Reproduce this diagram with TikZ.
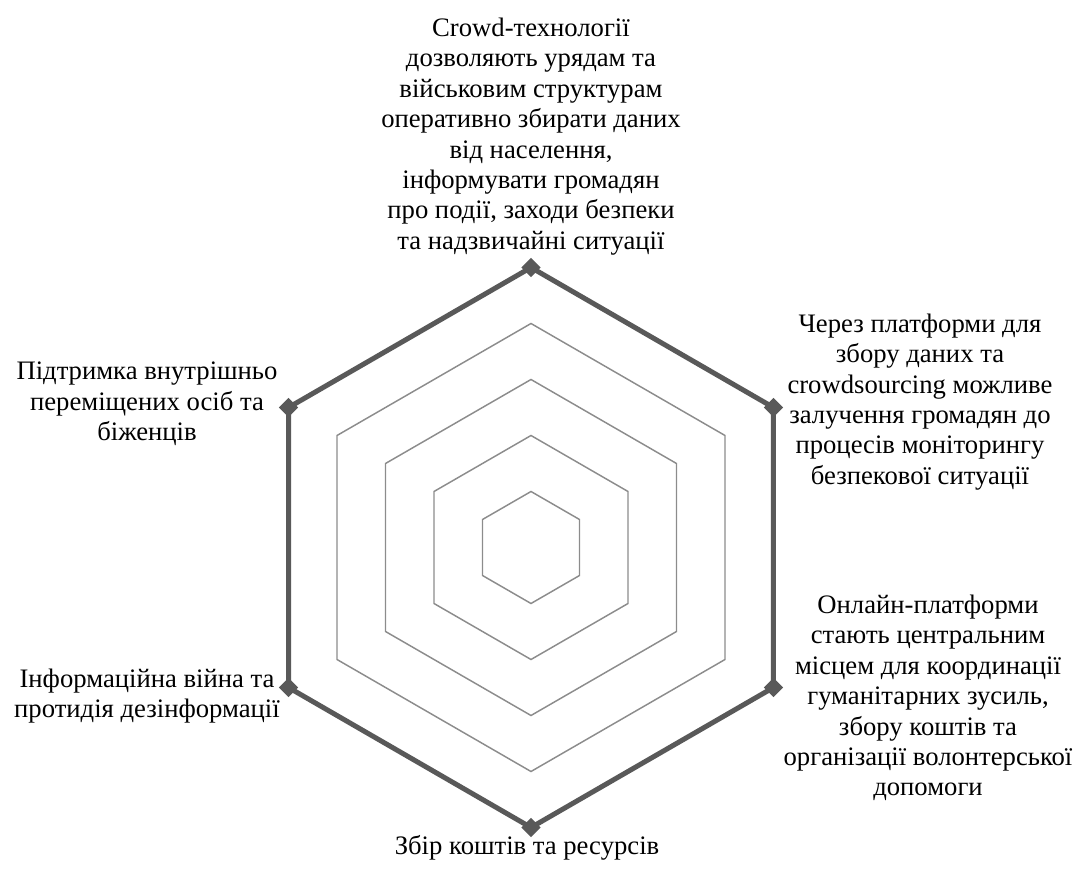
\documentclass[tikz,border=0pt]{standalone}
\usepackage{fontspec}
\setmainfont{Liberation Serif}
\usetikzlibrary{shapes.geometric}
\definecolor{gridgray}{RGB}{140,140,140}
\definecolor{datagray}{RGB}{89,89,89}
\tikzset{
 gridline/.style={gridgray, line width=1.1pt},
 dataline/.style={datagray, line width=3.75pt, line join=miter},
 marker/.style={diamond, fill=datagray, inner sep=0, minimum size=14.5pt},
 lbl/.style={align=center, inner sep=0, font=\fontsize{20}{22.8}\selectfont},
}
\begin{document}
\begin{tikzpicture}[x=0.75pt,y=0.75pt]
\useasboundingbox (-531,-322.5) rectangle (546,547.5);
\coordinate (O) at (0,0);
% grid
\foreach \r in {56,112,168,224} {
 \draw[gridline] (90:\r)--(30:\r)--(-30:\r)--(-90:\r)--(-150:\r)--(150:\r)--cycle;
}
% data
\foreach \a [count=\i] in {90,30,-30,-90,-150,150} {
 \coordinate (v\i) at (\a:280);
}
\draw[dataline] (v1)--(v2)--(v3)--(v4)--(v5)--(v6)--cycle;
\foreach \i in {1,...,6} {
 \node[marker] (m\i) at (v\i) {};
}
% labels
\node[lbl] (t1) at (0,411) {Crowd-технології\\дозволяють урядам та\\військовим структурам\\оперативно збирати даних\\від населення,\\інформувати громадян\\про події, заходи безпеки\\та надзвичайні ситуації};
\node[lbl] (t2) at (389,145.5) {Через платформи для\\збору даних та\\crowdsourcing можливе\\залучення громадян до\\процесів моніторингу\\безпекової ситуації};
\node[lbl] (t3) at (397,-150.5) {Онлайн-платформи\\стають центральним\\місцем для координації\\гуманітарних зусиль,\\збору коштів та\\організації волонтерської\\допомоги};
\node[lbl] (t4) at (-4,-300) {Збір коштів та ресурсів};
\node[lbl] (t5) at (-384,-148.5) {Інформаційна війна та\\протидія дезінформації};
\node[lbl] (t6) at (-384,143.5) {Підтримка внутрішньо\\переміщених осіб та\\біженців};
\end{tikzpicture}
\end{document}
